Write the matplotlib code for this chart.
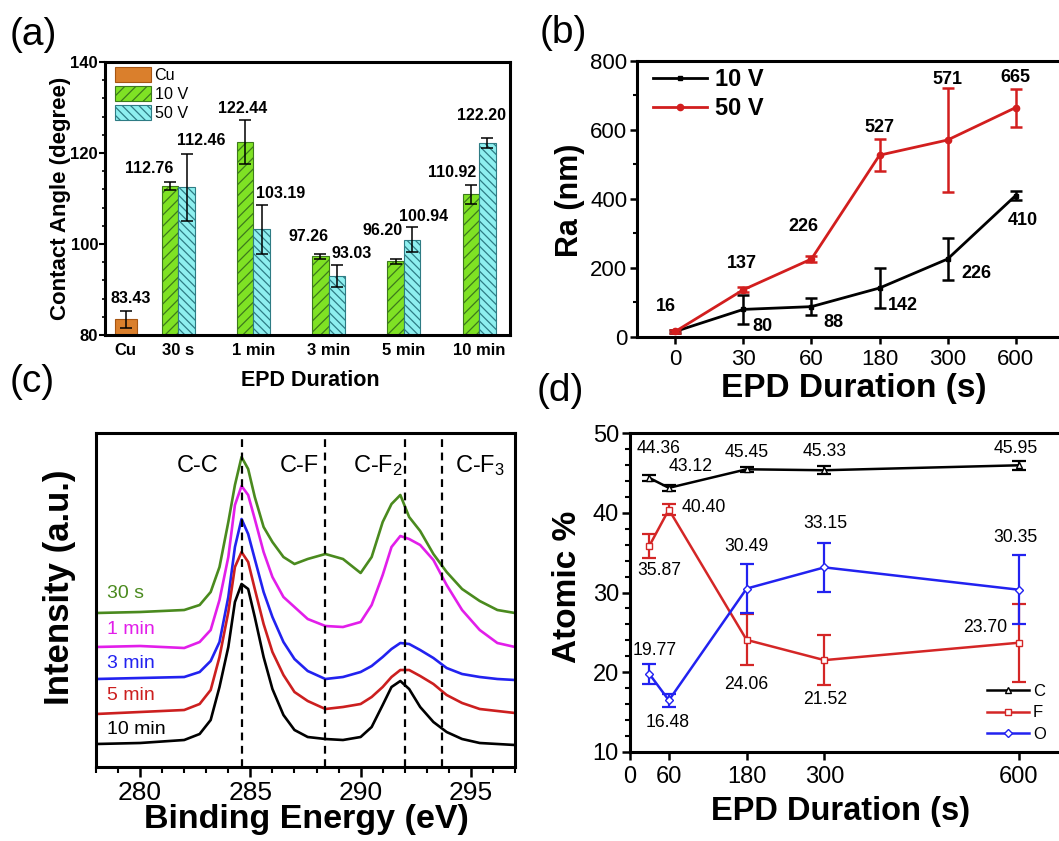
import numpy as np
import matplotlib
matplotlib.use('Agg')
import matplotlib.pyplot as plt
from matplotlib.ticker import MultipleLocator

plt.rcParams['font.family'] = ['Liberation Sans', 'DejaVu Sans']
plt.rcParams['mathtext.default'] = 'regular'
plt.rcParams['hatch.linewidth'] = 0.9

# ---- (a) contact angle ----
ca_groups = ['30 s', '1 min', '3 min', '5 min', '10 min']
cu_angle = 83.43
cu_err = 1.8
angle_10v = [112.76, 122.44, 97.26, 96.20, 110.92]
err_10v = [0.8, 4.8, 0.6, 0.5, 2.1]
angle_50v = [112.46, 103.19, 93.03, 100.94, 122.20]
err_50v = [7.3, 5.3, 2.4, 2.8, 1.2]

# ---- (b) roughness ----
ra_time = ['0', '30', '60', '180', '300', '600']
ra_10v = [16, 80, 88, 142, 226, 410]
ra_err_10v = [5, 43, 25, 57, 60, 12]
ra_50v = [16, 137, 226, 527, 571, 665]
ra_err_50v = [5, 8, 10, 46, 150, 55]

# ---- (c) C1s spectra (a.u.) ----
energy = [278, 280, 282, 282.7, 283.2, 283.6, 284.0, 284.3, 284.6, 284.9, 285.2,
          285.6, 286.0, 286.5, 287.0, 287.6, 288.4, 289.2, 290.0, 290.5, 291.0,
          291.4, 291.8, 292.2, 292.7, 293.3, 293.9, 294.6, 295.4, 296.2, 297]
c1s_30s = [154, 155, 157, 162, 175, 200, 245, 282, 310, 298, 270, 240, 225, 210, 203,
           208, 213, 208, 194, 210, 245, 263, 272, 250, 236, 213, 195, 178, 166, 157, 154]
c1s_1min = [120, 121, 119, 125, 137, 167, 210, 262, 281, 272, 248, 215, 190, 170, 160,
            148, 141, 140, 145, 162, 192, 220, 231, 228, 222, 207, 182, 157, 137, 124, 120]
c1s_3min = [88, 89, 90, 95, 106, 125, 170, 220, 248, 233, 208, 175, 150, 125, 108,
            96, 88, 90, 95, 101, 110, 118, 124, 123, 117, 109, 99, 93, 90, 88, 87]
c1s_5min = [53, 55, 57, 63, 77, 110, 155, 200, 215, 205, 178, 143, 115, 92, 75,
            66, 58, 60, 63, 70, 80, 90, 97, 97, 91, 83, 72, 64, 58, 56, 54]
c1s_10min = [23, 24, 27, 33, 47, 80, 120, 165, 183, 178, 150, 110, 78, 52, 37,
             30, 28, 27, 30, 40, 62, 80, 86, 78, 60, 45, 35, 28, 24, 23, 22]
peak_pos = [284.6, 288.4, 292.0, 293.7]
peak_names = ['C-C', 'C-F', 'C-F$_{2}$', 'C-F$_{3}$']

# ---- (d) atomic composition ----
at_time = [30, 60, 180, 300, 600]
at_c = [44.36, 43.12, 45.45, 45.33, 45.95]
at_c_err = [0.4, 0.35, 0.3, 0.5, 0.6]
at_f = [35.87, 40.40, 24.06, 21.52, 23.70]
at_f_err = [1.5, 0.7, 3.2, 3.1, 4.9]
at_o = [19.77, 16.48, 30.49, 33.15, 30.35]
at_o_err = [1.3, 0.8, 3.1, 3.1, 4.3]

W, H = 1059, 841
fig = plt.figure(figsize=(W / 100, H / 100), dpi=100)


def px_axes(l, t, r, b):
    return fig.add_axes([l / W, 1 - b / H, (r - l) / W, (b - t) / H])


def box(ax, lw=2.2):
    for s in ax.spines.values():
        s.set_linewidth(lw)


ax_a = px_axes(105, 62, 510, 335)
ax_b = px_axes(637, 61, 1064, 337)
ax_c = px_axes(96, 433, 515, 767)
ax_d = px_axes(630, 433, 1064, 752)

# ================= (a) =================
pos = np.arange(1, len(ca_groups) + 1)
cu_pos = 0.3
bw = 0.22
green, green_e = '#7FE224', '#3D7A1C'
cyan, cyan_e = '#8EEFEF', '#2E7C84'
ax_a.bar(cu_pos, cu_angle, width=0.29, color='#DA7F2C', edgecolor='#A65512', lw=0.8, label='Cu')
ax_a.bar(pos - bw / 2, angle_10v, width=bw, color=green, edgecolor=green_e, hatch='///', lw=0.8, label='10 V')
ax_a.bar(pos + bw / 2, angle_50v, width=bw, color=cyan, edgecolor=cyan_e, hatch='\\\\\\\\', lw=0.8, label='50 V')
ekw = dict(fmt='none', ecolor='k', elinewidth=1.1, capsize=4.3, capthick=1.1)
ax_a.errorbar([cu_pos], [cu_angle], yerr=[cu_err], **ekw)
ax_a.errorbar(pos - bw / 2, angle_10v, yerr=err_10v, **ekw)
ax_a.errorbar(pos + bw / 2, angle_50v, yerr=err_50v, **ekw)

lab_a = dict(ha='center', va='center', fontsize=11.5, fontweight='bold')
ax_a.text(cu_pos + 0.07, cu_angle + 4.6, '%.2f' % cu_angle, **lab_a)
off_10v = [(-0.27, 3.8), (-0.04, 7.3), (-0.16, 4.3), (-0.17, 6.8), (-0.25, 4.7)]
off_50v = [(0.2, 10.3), (0.25, 7.9), (0.2, 4.9), (0.15, 5.2), (-0.08, 6.1)]
for i in range(len(pos)):
    ax_a.text(pos[i] - bw / 2 + off_10v[i][0], angle_10v[i] + off_10v[i][1], '%.2f' % angle_10v[i], **lab_a)
    ax_a.text(pos[i] + bw / 2 + off_50v[i][0], angle_50v[i] + off_50v[i][1], '%.2f' % angle_50v[i], **lab_a)

ax_a.set_xlim(0.026, 5.41)
ax_a.set_ylim(80, 140)
ax_a.set_xticks([cu_pos] + list(pos))
ax_a.set_xticklabels(['Cu'] + ca_groups)
ax_a.set_yticks([80, 100, 120, 140])
ax_a.yaxis.set_minor_locator(MultipleLocator(4))
ax_a.tick_params(axis='y', which='major', direction='out', length=4, width=1.5, pad=1, labelsize=12)
ax_a.tick_params(axis='y', which='minor', direction='out', length=2.5, width=1.2)
ax_a.tick_params(axis='x', length=0, pad=6, labelsize=12)
for t in ax_a.get_xticklabels() + ax_a.get_yticklabels():
    t.set_fontweight('bold')
ax_a.set_ylabel('Contact Angle (degree)', fontsize=16, fontweight='bold')
ax_a.set_xlabel('EPD Duration', fontsize=15.5, fontweight='bold')
ax_a.yaxis.set_label_coords(-0.111, 0.5)
ax_a.xaxis.set_label_coords(0.506, -0.165)
ax_a.yaxis.label.set_va('center')
ax_a.xaxis.label.set_va('center')
ax_a.legend(loc='upper left', bbox_to_anchor=(0.025, 0.982), frameon=False, fontsize=11.6,
            handlelength=2.2, handleheight=1.06, handletextpad=0.25, labelspacing=0.2,
            borderpad=0, borderaxespad=0)
box(ax_a)

# ================= (b) =================
xb = np.arange(len(ra_time))
red_b = '#D21E1E'
ax_b.errorbar(xb, ra_10v, yerr=ra_err_10v, fmt='none', ecolor='k', elinewidth=1.8, capsize=4, capthick=1.8)
l10, = ax_b.plot(xb, ra_10v, color='k', lw=2, marker='s', ms=3.5, label='10 V')
ax_b.errorbar(xb, ra_50v, yerr=ra_err_50v, fmt='none', ecolor=red_b, elinewidth=1.8, capsize=4, capthick=1.8)
l50, = ax_b.plot(xb, ra_50v, color=red_b, lw=2, marker='o', ms=4.5, label='50 V')

lab_b = dict(ha='center', va='center', fontsize=13, fontweight='bold')
off_b50 = [(-0.14, 73), (-0.02, 77), (-0.12, 94), (0.0, 79), (0.0, 176), (0.0, 86)]
off_b10 = [None, (0.28, -49), (0.32, -46), (0.35, -52), (0.43, -43), (0.1, -71)]
for i in range(len(xb)):
    ax_b.text(xb[i] + off_b50[i][0], ra_50v[i] + off_b50[i][1], str(ra_50v[i]), **lab_b)
    if off_b10[i] is not None:
        ax_b.text(xb[i] + off_b10[i][0], ra_10v[i] + off_b10[i][1], str(ra_10v[i]), **lab_b)

ax_b.set_xlim(-0.562, 5.71)
ax_b.set_ylim(0, 800)
ax_b.set_xticks(xb)
ax_b.set_xticklabels(ra_time)
ax_b.set_yticks([0, 200, 400, 600, 800])
ax_b.yaxis.set_minor_locator(MultipleLocator(100))
ax_b.tick_params(axis='both', which='major', direction='out', length=5, width=1.8, labelsize=16)
ax_b.tick_params(axis='y', which='major', pad=2)
ax_b.tick_params(axis='x', which='major', pad=4)
ax_b.tick_params(axis='y', which='minor', direction='out', length=3, width=1.5)
ax_b.set_ylabel('Ra (nm)', fontsize=22, fontweight='bold')
ax_b.set_xlabel('EPD Duration (s)', fontsize=24, fontweight='bold')
ax_b.yaxis.set_label_coords(-0.157, 0.496)
ax_b.xaxis.set_label_coords(0.508, -0.185)
ax_b.yaxis.label.set_va('center')
ax_b.xaxis.label.set_va('center')
ax_b.legend(handles=[l10, l50], loc='upper left', bbox_to_anchor=(0.037, 0.975), frameon=False,
            prop={'size': 17, 'weight': 'bold'}, handlelength=2.3, handletextpad=0.35,
            labelspacing=0.25, borderpad=0, borderaxespad=0)
box(ax_b)

# ================= (c) =================
curves = [(c1s_30s, '30 s', '#4A8A1E', 174), (c1s_1min, '1 min', '#E21EEA', 137),
          (c1s_3min, '3 min', '#2222F0', 104), (c1s_5min, '5 min', '#CC1F1F', 71),
          (c1s_10min, '10 min', 'k', 38)]
for vals, name, col, ly in curves:
    ax_c.plot(energy, vals, color=col, lw=1.9)
    ax_c.text(278.51, ly, name, color=col, fontsize=14, ha='left', va='center')
for p in peak_pos:
    ax_c.axvline(p, color='k', lw=1.6, ls=(0, (3.5, 2.5)))
name_x = [281.66, 286.31, 289.66, 294.28]
for nx, nm in zip(name_x, peak_names):
    ax_c.text(nx, 295, nm, fontsize=17, ha='left', va='baseline')
ax_c.set_xlim(278, 297)
ax_c.set_ylim(0, 334)
ax_c.set_xticks([280, 285, 290, 295])
ax_c.xaxis.set_minor_locator(MultipleLocator(1))
ax_c.set_yticks([])
ax_c.tick_params(axis='x', which='major', direction='out', length=7, width=1.8, pad=3, labelsize=19)
ax_c.tick_params(axis='x', which='minor', direction='out', length=4, width=1.5)
ax_c.set_ylabel('Intensity (a.u.)', fontsize=25, fontweight='bold')
ax_c.set_xlabel('Binding Energy (eV)', fontsize=24.5, fontweight='bold')
ax_c.yaxis.set_label_coords(-0.086, 0.539)
ax_c.xaxis.set_label_coords(0.503, -0.158)
ax_c.yaxis.label.set_va('center')
ax_c.xaxis.label.set_va('center')
box(ax_c)

# ================= (d) =================
red_d, blue_d = '#D42626', '#2222F0'
series_d = [(at_c, at_c_err, 'k', '^', 'C'), (at_f, at_f_err, red_d, 's', 'F'),
            (at_o, at_o_err, blue_d, 'D', 'O')]
handles = []
for vals, err, col, mk, name in series_d:
    ax_d.errorbar(at_time, vals, yerr=err, fmt='none', ecolor=col, elinewidth=1.6, capsize=4.7, capthick=1.6)
    h, = ax_d.plot(at_time, vals, color=col, lw=1.8, marker=mk, ms=5 if mk != 'D' else 4.2,
                   mfc='white', mec=col, mew=1, label=name)
    handles.append(h)

lab_d = dict(ha='center', va='center', fontsize=12.7)
off_dc = [(13.7, 3.74), (33.6, 2.68), (0, 2.15), (0.8, 2.37), (-5, 2.05)]
off_df = [(15, -3.17), (54, 0.2), (-1, -5.61), (2, -4.92), (-52.4, 1.9)]
off_do = [(8.6, 2.98), (-2.4, -2.78), (0, 5.31), (0.8, 5.45), (-4.5, 6.55)]
for vals, offs in [(at_c, off_dc), (at_f, off_df), (at_o, off_do)]:
    for t, v, (dx, dy) in zip(at_time, vals, offs):
        ax_d.text(t + dx, v + dy, '%.2f' % v, **lab_d)

ax_d.set_xlim(0, 670)
ax_d.set_ylim(10, 50)
ax_d.set_xticks([0, 60, 180, 300, 600])
ax_d.set_yticks([10, 20, 30, 40, 50])
ax_d.yaxis.set_minor_locator(MultipleLocator(2))
ax_d.tick_params(axis='both', which='major', direction='out', length=6, width=1.8, labelsize=17)
ax_d.tick_params(axis='y', which='major', pad=2)
ax_d.tick_params(axis='x', which='major', pad=4)
ax_d.tick_params(axis='y', which='minor', direction='out', length=3.5, width=1.5)
ax_d.set_ylabel('Atomic %', fontsize=24, fontweight='bold')
ax_d.set_xlabel('EPD Duration (s)', fontsize=23.5, fontweight='bold')
ax_d.yaxis.set_label_coords(-0.143, 0.517)
ax_d.xaxis.set_label_coords(0.486, -0.188)
ax_d.yaxis.label.set_va('center')
ax_d.xaxis.label.set_va('center')
ax_d.legend(handles=handles, loc='upper left', bbox_to_anchor=((987 - 630) / 434, (752 - 684) / 319),
            frameon=False, fontsize=12, handlelength=2.5, handletextpad=0.25, labelspacing=0.38,
            borderpad=0, borderaxespad=0)
box(ax_d)

# panel letters
for lx, ly, s in [(10, 35, '(a)'), (540, 33, '(b)'), (10, 382, '(c)'), (537, 391, '(d)')]:
    fig.text(lx / W, 1 - ly / H, s, fontsize=28, ha='left', va='center')

fig.savefig('out.png', dpi=100)
